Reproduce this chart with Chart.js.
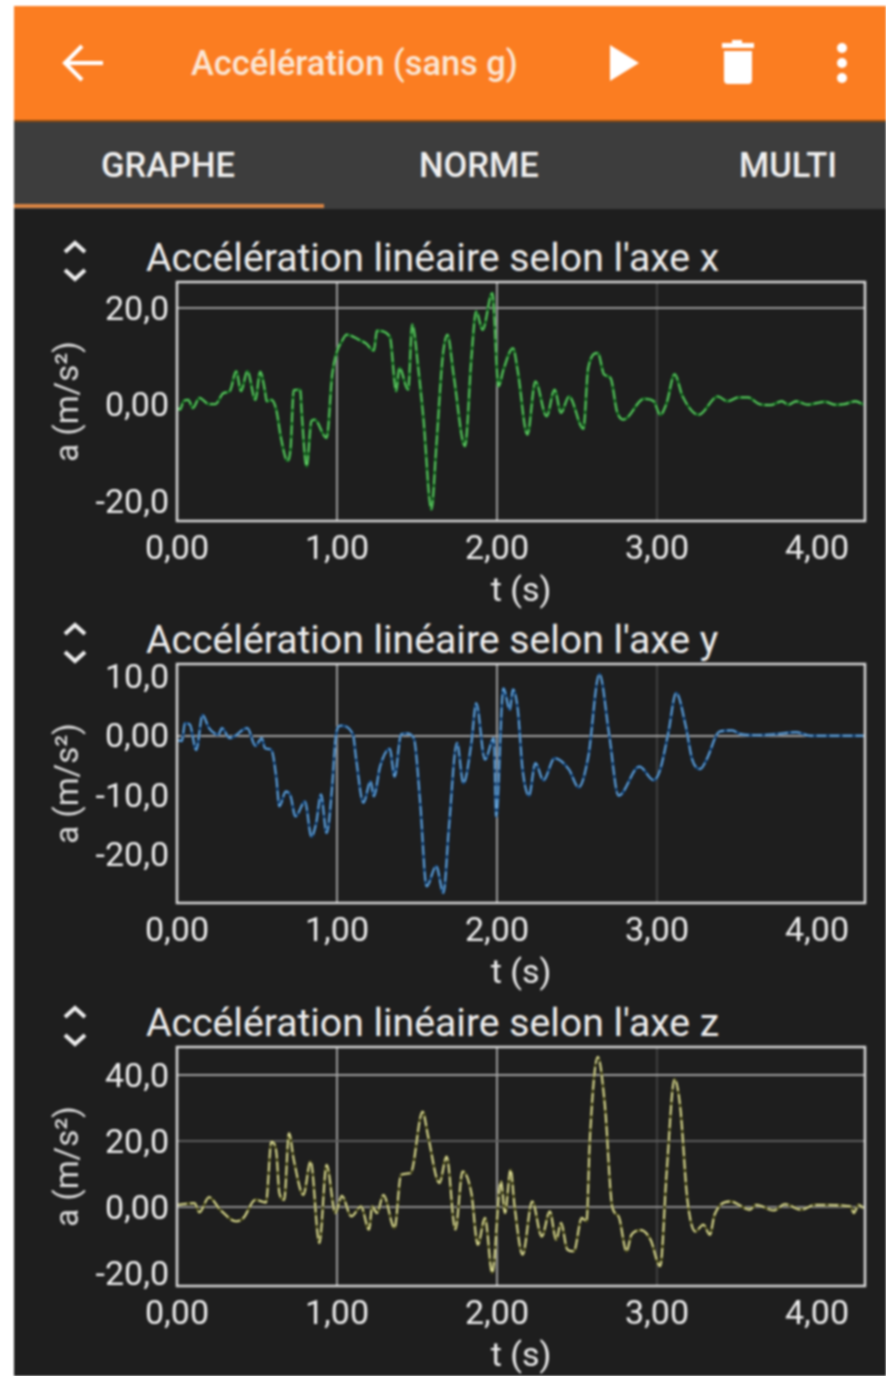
<!DOCTYPE html>
<html>
<head>
<meta charset="utf-8">
<title>Accélération (sans g)</title>
<script src="https://cdn.jsdelivr.net/npm/chart.js@4"></script>
<style>
  html, body { margin: 0; padding: 0; background: #fff; }
  body { width: 886px; height: 1376px; overflow: hidden; position: relative; font-family: Roboto, sans-serif; }
  #app { position: absolute; left: 14px; top: 6px; width: 872px; height: 1370px; background: #1e1e1e; filter: blur(0.8px); overflow: hidden; }
  #bar { position: absolute; left: 0; top: 0; width: 872px; height: 114px; background: #fb7d21; border-bottom: 2px solid #8a4a12; }
  #tabs { position: absolute; left: 0; top: 116px; width: 872px; height: 87px; background: #3d3d3d; }
  #underline { position: absolute; left: 0; top: 82px; width: 310px; height: 4px; background: #d98443; }
  .txt { position: absolute; color: #f0f0f0; white-space: nowrap; line-height: 1; }
  .toptitle { left: 177px; top: 40px; font-size: 34.4px; font-weight: 500; color: #fbe6d4; }
  .tab { top: 26px; font-size: 34.5px; font-weight: 500; }
  .ptitle { left: 132px; font-size: 39.2px; color: #eee; }
  svg { position: absolute; }
  canvas { position: absolute; left: 36px; }
</style>
</head>
<body>
<div id="app">
  <div id="bar">
    <div class="txt toptitle">Accélération (sans g)</div>
    <svg style="left:46px;top:36px" width="46" height="42" fill="none" stroke="#fff" stroke-width="4"><path d="M5 21H43M22 4L5 21L22 38"/></svg>
    <svg style="left:594px;top:38px" width="34" height="38" fill="#fff"><path d="M2 1L31 19L2 37Z"/></svg>
    <svg style="left:706px;top:33px" width="36" height="46" fill="#fff"><path d="M12 1H22V4H34V9H2V4H12ZM4 12H32V41Q32 45 28 45H8Q4 45 4 41Z"/></svg>
    <svg style="left:820px;top:36px" width="16" height="44" fill="#fff"><circle cx="8" cy="6" r="5"/><circle cx="8" cy="21" r="5"/><circle cx="8" cy="36" r="5"/></svg>
  </div>
  <div id="tabs">
    <div class="txt tab" style="left:87px">GRAPHE</div>
    <div class="txt tab" style="left:405px">NORME</div>
    <div class="txt tab" style="left:725px">MULTI</div>
    <div id="underline"></div>
  </div>

  <svg style="left:48px;top:232px" width="26" height="46" fill="none" stroke="#eee" stroke-width="4"><path d="M3 14L13 5L23 14M3 32L13 41L23 32"/></svg>
  <div class="txt ptitle" style="top:233px">Accélération linéaire selon l'axe x</div>
  <canvas id="chartX" width="836" height="343" style="top:264px"></canvas>

  <svg style="left:48px;top:614px" width="26" height="46" fill="none" stroke="#eee" stroke-width="4"><path d="M3 14L13 5L23 14M3 32L13 41L23 32"/></svg>
  <div class="txt ptitle" style="top:615px">Accélération linéaire selon l'axe y</div>
  <canvas id="chartY" width="836" height="343" style="top:646px"></canvas>

  <svg style="left:48px;top:997px" width="26" height="46" fill="none" stroke="#eee" stroke-width="4"><path d="M3 14L13 5L23 14M3 32L13 41L23 32"/></svg>
  <div class="txt ptitle" style="top:998px">Accélération linéaire selon l'axe z</div>
  <canvas id="chartZ" width="836" height="343" style="top:1029px"></canvas>
</div>

<script>
// Values
const timeTicks = [0, 1, 2, 3, 4];

const tX = [0, .02, .04, .07, .10, .14, .20, .24, .29, .33, .37, .40, .44, .49, .52, .55, .56, .59, .62, .65, .69, .71, .73, .77, .78, .81, .84, .86, .935, .97, 1.0, 1.03, 1.06, 1.14, 1.18, 1.23, 1.25, 1.33, 1.37, 1.39, 1.445, 1.47, 1.51, 1.54, 1.59, 1.62, 1.66, 1.69, 1.73, 1.80, 1.84, 1.87, 1.91, 1.97, 2.01, 2.04, 2.10, 2.13, 2.19, 2.24, 2.31, 2.36, 2.40, 2.45, 2.54, 2.57, 2.63, 2.67, 2.71, 2.75, 2.79, 2.92, 2.98, 3.02, 3.06, 3.11, 3.16, 3.26, 3.38, 3.44, 3.51, 3.57, 3.64, 3.71, 3.78, 3.82, 3.87, 3.94, 4.05, 4.11, 4.17, 4.24, 4.29];
const aX = [-.7, -1, .7, 1, -.7, 1.4, .1, .1, 2.4, 2.8, 6.9, 2.8, 6.9, 1, 6.8, 2.8, .7, 1, -1, -6.9, -11.6, -9, 3, 3.1, -2, -12.8, -3.4, -3.1, -6.9, 6.2, 11, 13.1, 14.5, 13.4, 12.7, 11.2, 15.3, 14.1, 2.8, 7.6, 3.1, 16.6, 6.9, -2.8, -21.7, -9, 9.7, 14.5, 5.9, -8.6, 9.7, 19.3, 15.5, 23.1, 3.8, 7.2, 11.7, 6.9, -6.2, 4.8, -2.4, 3.1, -1.7, 1.7, -5, 7.6, 10.7, 6.2, 5.5, -1.4, -3.1, 1.2, .7, -2.1, .3, 6.3, 1.7, -2.1, 1.7, .7, 1.5, 1.5, .1, -.1, .7, 0, .7, 0, .6, 0, .1, .7, 0];

const tY = [0, .03, .05, .08, .12, .16, .20, .26, .28, .33, .44, .49, .53, .55, .59, .62, .64, .68, .71, .74, .80, .84, .87, .90, .935, .97, .99, 1.02, 1.10, 1.12, 1.165, 1.21, 1.23, 1.27, 1.33, 1.36, 1.40, 1.435, 1.48, 1.52, 1.56, 1.62, 1.665, 1.70, 1.75, 1.79, 1.84, 1.87, 1.925, 1.98, 1.995, 2.04, 2.08, 2.10, 2.13, 2.16, 2.20, 2.24, 2.29, 2.36, 2.45, 2.51, 2.57, 2.64, 2.70, 2.76, 2.89, 2.98, 3.02, 3.07, 3.12, 3.18, 3.22, 3.27, 3.31, 3.39, 3.47, 3.52, 3.62, 3.75, 3.87, 3.96, 4.29];
const aY = [-.7, -.9, 2.1, 1.9, -2.4, 3.5, 1.3, .2, 1.3, -.4, 1.3, -1.7, -.4, -2.1, -2.4, -6.9, -11.9, -9.4, -10.2, -13.6, -11.1, -17, -14.7, -9.9, -16.4, -8.5, -.7, 1.7, .2, -4, -11.3, -7.7, -10.2, -5.1, -2.2, -6.9, .2, .4, -.4, -11.3, -25.4, -22, -26.5, -15.3, -1.2, -8, -1.2, 5.5, -4, -.4, -13.6, 8, 4.4, 7.8, 4.4, -5.7, -10.1, -4.6, -7.5, -3.8, -5.7, -8.7, -3.6, 10.4, .4, -10.1, -5.2, -7.5, -5.7, .4, 7.2, 1.6, -4, -5.6, -4, .7, .9, .3, .1, .3, .6, 0, 0];

const tZ = [0, .11, .14, .20, .27, .37, .415, .49, .556, .59, .62, .64, .67, .70, .73, .79, .835, .89, .935, .99, 1.03, 1.09, 1.15, 1.20, 1.22, 1.25, 1.29, 1.36, 1.40, 1.46, 1.535, 1.57, 1.64, 1.685, 1.74, 1.785, 1.84, 1.88, 1.925, 1.97, 2.025, 2.05, 2.085, 2.11, 2.16, 2.22, 2.28, 2.33, 2.37, 2.40, 2.44, 2.48, 2.53, 2.56, 2.58, 2.63, 2.675, 2.72, 2.76, 2.81, 2.84, 2.90, 2.96, 3.02, 3.06, 3.11, 3.145, 3.19, 3.24, 3.29, 3.33, 3.36, 3.46, 3.58, 3.62, 3.73, 3.80, 3.90, 3.99, 4.21, 4.23, 4.26, 4.29];
const aZ = [.7, 1.2, -1.6, 3, -.8, -4.3, -3.3, 2.2, 1.4, 19.8, 17, 4.2, 2.2, 22.4, 14.3, 3.7, 13.8, -10.9, 12.8, -1.8, 3.4, -2.8, .2, -6.8, .2, -1.8, 3.7, -6.3, 9.8, 10.3, 28.9, 21.3, 7.3, 15.3, -6.8, 10.8, 4.2, -11.4, -3.3, -19.9, 7.8, -1.8, 11.3, .2, -14.4, 1.7, -8.9, -1.3, -9.9, -4.8, -12.9, -13.4, -3.3, -4.3, 20.3, 45.5, 30.4, .2, -2.8, -13.4, -8.4, -7, -9.9, -17.9, 10.3, 38.7, 30.4, 2.2, -7.4, -5.3, -8.4, -2.3, 1.7, -.8, .7, -1, .9, -.8, .7, .2, -1.8, .7, -.3];

const accelTicksX = [-20, 0, 20];
const accelTicksY = [-20, -10, 0, 10];
const accelTicksZ = [-20, 0, 20, 40];

// Comma decimals, the zero label has two decimals like on the phone
function frTick(value, digits) {
  return value.toFixed(digits).replace(".", ",");
}

// Box round the plot area, the axes only give two sides of it
const frameBox = {
  id: "frameBox",
  afterDatasetsDraw: function (chart) {
    const a = chart.chartArea;
    const ctx = chart.ctx;
    ctx.save();
    ctx.strokeStyle = "#d8d8d8";
    ctx.lineWidth = 2.5;
    ctx.strokeRect(a.left, a.top, a.right - a.left, a.bottom - a.top);
    ctx.restore();
  },
};

function drawPanel(id, times, values, yTicks, yMin, yMax, dark, light, gridY) {
  const points = times.map(function (t, i) {
    return { x: t, y: values[i] };
  });

  const gridX = { 1: "#9a9a9a", 2: "#9a9a9a", 3: "#3f3f3f" };

  return new Chart(document.getElementById(id), {
    type: "line",
    data: {
      datasets: [
        // first dataset is painted last, so the dashes sit on the dark line
        { data: points, borderColor: light, borderWidth: 1.8, borderDash: [10, 3], pointRadius: 0, cubicInterpolationMode: "monotone" },
        { data: points, borderColor: dark, borderWidth: 3, pointRadius: 0, cubicInterpolationMode: "monotone" },
      ],
    },
    options: {
      responsive: false,
      animation: false,
      layout: { padding: { top: 12, right: 21, bottom: 0, left: 0 } },
      plugins: { legend: { display: false }, tooltip: { enabled: false } },
      scales: {
        x: {
          type: "linear",
          min: 0,
          max: 4.3,
          afterBuildTicks: function (axis) {
            axis.ticks = timeTicks.map((v) => ({ value: v }));
          },
          afterFit: function (axis) {
            axis.height = 92;
          },
          border: { display: false },
          grid: {
            drawTicks: false,
            lineWidth: 2,
            color: (c) => gridX[c.tick.value] || "transparent",
          },
          ticks: {
            padding: 9,
            maxRotation: 0,
            autoSkip: false,
            color: "#ececec",
            font: { family: "Roboto", size: 34 },
            callback: (v) => frTick(v, 2),
          },
          title: {
            display: true,
            text: "t (s)",
            color: "#ececec",
            font: { family: "Roboto", size: 34 },
            padding: { top: 0, bottom: 0 },
          },
        },
        y: {
          min: yMin,
          max: yMax,
          afterBuildTicks: function (axis) {
            axis.ticks = yTicks.map((v) => ({ value: v }));
          },
          afterFit: function (axis) {
            axis.width = 127;
            // tick labels never reach the ends here, no room needed for them
            axis.paddingTop = 0;
            axis.paddingBottom = 0;
          },
          border: { display: false },
          grid: {
            drawTicks: false,
            lineWidth: 2,
            color: (c) => gridY[c.tick.value] || "transparent",
          },
          ticks: {
            padding: 8,
            labelOffset: 3,
            autoSkip: false,
            color: "#ececec",
            font: { family: "Roboto", size: 34 },
            callback: (v) => (v === 0 ? "0,00" : frTick(v, 1)),
          },
          title: {
            display: true,
            text: "a (m/s²)",
            color: "#dcdcdc",
            font: { family: "Roboto", size: 33 },
            padding: { top: 0, bottom: 0 },
          },
        },
      },
    },
    plugins: [frameBox],
  });
}

document.addEventListener("DOMContentLoaded", function () {
  drawPanel("chartX", tX, aX, accelTicksX, -24.1, 25.4, "#14641f", "#62cc66", { 20: "#9a9a9a" });
  drawPanel("chartY", tY, aY, accelTicksY, -28.2, 12.1, "#123f70", "#6aa8dc", { 0: "#a0a0a0" });
  drawPanel("chartZ", tZ, aZ, accelTicksZ, -23.9, 48.5, "#46461a", "#e6e6a0", { 40: "#a0a0a0", 20: "#5c5c5c", 0: "#8c8c8c" });
});
</script>
</body>
</html>
